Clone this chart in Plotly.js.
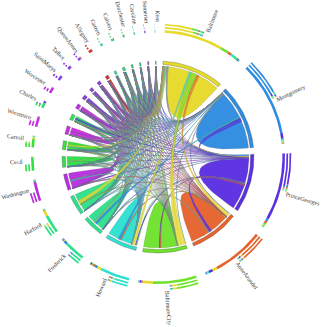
<!DOCTYPE html>
<html>
<head>
<meta charset="utf-8">
<script src="https://cdn.plot.ly/plotly-3.0.1.min.js"></script>
<style>body { margin: 0; background: #fff; }</style>
</head>
<body>
<div id="chart" style="width:321px;height:327px"></div>
<script>
const COUNTIES = ["Baltimore", "Montgomery", "PrinceGeorges", "AnneArundel", "BaltimoreCity", "Howard",
  "Frederick", "Harford", "Washington", "Cecil", "Carroll", "Wicomico", "Charles", "Worcester",
  "SaintMarys", "Talbot", "QueenAnnes", "Allegany", "Garrett", "Calvert", "Dorchester", "Caroline",
  "Somerset", "Kent"];

const COLORS = ["#e6da2a", "#2f8ce0", "#5a30e0", "#e5642e", "#70e22e", "#2ee0d0",
  "#2ee08c", "#2ee088", "#b830e0", "#30e048", "#38e038", "#c830e0", "#30e05c", "#c030e0",
  "#8c40d8", "#8c40d8", "#8c40e0", "#d8342e", "#30dca0", "#30e080", "#30c878", "#30cc98",
  "#8c44c8", "#3cb4b4"];

// width of each county's ribbons towards every other county, same order as COUNTIES
const FLOWS = [
  [270, 6, 3, 18, 38, 14, 2, 12, 1, 1, 7, .4, .4, .3, .4, .3, .5, .4, .2, .5, .2, .3, .1, .2],
  [4, 344, 26, 3, 3, 4, 9, .5, 1, .2, .6, .1, .3, .1, .1, .1, .1, .1, .1, .1, .05, .05, .05, .05],
  [5, 12, 310, 12, 5, 3, 1, .3, .3, .1, .1, .1, 6, .1, .5, .1, .1, .1, .05, .5, .05, .05, .05, .05],
  [22, 4, 18, 240, 5, 6, .4, .5, .1, .1, .2, .1, .2, .1, .2, .2, 1.5, .1, .05, 1.5, .1, .1, .05, .05],
  [48, 2, 5, 7, 200, 4, .2, 2, .1, .1, .3, .1, .1, .1, .1, .1, .1, .1, .02, .1, .05, .05, .02, .05],
  [20, 14, 6, 9, 7, 135, 1.2, .3, .1, .1, 1, .1, .1, .1, .1, .1, .1, .1, .02, .1, .02, .02, .02, .02],
  [4, 17, 2, .8, .5, 2.2, 95, .1, 3, .05, 1.5, .02, .05, .02, .03, .02, .02, .1, .02, .02, .01, .01, .01, .01],
  [24, .8, .5, 2, 5, 1, .1, 85, .02, 1.5, .2, .02, .02, .02, .02, .02, .1, .02, .01, .02, .01, .02, .01, .02],
  [1, 1, .2, .2, .2, .2, 7.5, .05, 88, .02, .2, .02, .02, .01, .01, .01, .01, .8, .05, .01, .01, .01, .01, .01],
  [1.5, .1, .1, .1, .2, .1, .02, 3, .02, 60, .02, .02, .02, .02, .01, .01, .05, .01, .01, .01, .02, .05, .01, .2],
  [9, 1, .2, .4, 1, 2, 2, .1, .2, .02, 38, .01, .01, .01, .01, .01, .01, .01, .01, .01, .01, .01, .01, .01],
  [.2, .1, .1, .1, .1, .05, .02, .02, .02, .02, .01, 45, .02, 2, .02, .05, .02, .01, .01, .02, 1, .1, 1.2, .02],
  [.2, .7, 8, .3, .1, .1, .02, .02, .02, .01, .01, .01, 24, .01, 1.5, .01, .01, .01, .01, .5, .01, .01, .01, .01],
  [.1, .05, .05, .05, .05, .02, .01, .01, .01, .01, .01, 2, .01, 27, .01, .02, .01, .01, .01, .01, .1, .05, .2, .01],
  [.2, .3, 1.5, .5, .1, .1, .02, .02, .01, .01, .01, .01, 1.2, .01, 21, .01, .01, .01, .01, .6, .01, .01, .01, .01],
  [.4, .1, .1, .5, .1, .05, .01, .02, .01, .02, .01, .1, .01, .02, .01, 16, .8, .01, .01, .02, .6, .8, .01, .1],
  [1, .2, .2, 3, .2, .1, .02, .05, .01, .1, .01, .02, .01, .01, .01, 1, 13, .01, .01, .03, .1, .5, .01, .5],
  [.2, .1, .1, .05, .05, .05, .1, .02, 1, .01, .01, .01, .01, .01, .01, .01, .01, 17, .8, .01, .01, .01, .01, .01],
  [.1, .1, .05, .02, .02, .02, .05, .01, .3, .01, .01, .01, .01, .01, .01, .01, .01, 1, 11, .01, .01, .01, .01, .01],
  [.2, .2, 2, 2.5, .1, .1, .01, .01, .01, .01, .01, .01, .4, .01, .8, .01, .05, .01, .01, 9, .01, .01, .01, .01],
  [.1, .02, .02, .05, .02, .01, .01, .01, .01, .01, .01, .5, .01, .05, .01, .8, .05, .01, .01, .01, 8, .3, .05, .01],
  [.1, .03, .03, .1, .03, .01, .01, .02, .01, .03, .01, .05, .01, .03, .01, 1, .5, .01, .01, .01, .5, 5.5, .01, .1],
  [.05, .02, .02, .02, .01, .01, .01, .01, .01, .01, .01, 1.3, .01, .3, .01, .01, .01, .01, .01, .01, .05, .01, 5, .01],
  [.1, .02, .02, .05, .02, .01, .01, .02, .01, .3, .01, .01, .01, .01, .01, .1, .3, .01, .01, .01, .01, .1, .01, 2.8]
];

const MAIN_RIBBONS = {0: [5, 4, 3], 1: [2, 6], 2: [5, 4, 3], 3: [5, 2], 4: [3, 2], 5: [3, 1]};

const START_ANGLE = 3;
const GAP = 4.1;
const RIBBON_R = 91;
const N = COUNTIES.length;

function sum(a) {
  return a.reduce((s, v) => s + v, 0);
}

function polar(r, a) {
  var rad = a * Math.PI / 180;
  return [r * Math.sin(rad), r * Math.cos(rad)];
}

function arc(r, a0, a1) {
  var pts = [];
  var steps = Math.max(2, Math.ceil(Math.abs(a1 - a0) / 1.5));
  for (var k = 0; k <= steps; k++) {
    pts.push(polar(r, a0 + (a1 - a0) * k / steps));
  }
  return pts;
}

// petal edge: quadratic curve between two rim points, pulled to the centre
function curve(a0, a1) {
  var p = polar(RIBBON_R, a0), q = polar(RIBBON_R, a1), pts = [];
  for (var k = 1; k < 24; k++) {
    var t = k / 24;
    pts.push([(1 - t) * (1 - t) * p[0] + t * t * q[0], (1 - t) * (1 - t) * p[1] + t * t * q[1]]);
  }
  return pts;
}

// ribbon edge: cubic, leaves the rim radially
function ribbonEdge(a0, a1) {
  var p = polar(RIBBON_R, a0), q = polar(RIBBON_R, a1);
  var c0 = polar(RIBBON_R * 0.3, a0), c1 = polar(RIBBON_R * 0.3, a1), pts = [];
  for (var k = 1; k < 24; k++) {
    var t = k / 24, u = 1 - t;
    pts.push([0, 1].map(d => u * u * u * p[d] + 3 * u * u * t * c0[d] + 3 * u * t * t * c1[d] + t * t * t * q[d]));
  }
  return pts;
}

var groups = {};
function addPoly(layer, c, pts) {
  var key = layer + "|" + c;
  if (!groups[key]) groups[key] = {x: [], y: [], layer: layer, c: c};
  pts.forEach(p => { groups[key].x.push(p[0]); groups[key].y.push(p[1]); });
  groups[key].x.push(pts[0][0], null);
  groups[key].y.push(pts[0][1], null);
}

function band(layer, c, r0, r1, a0, a1) {
  addPoly(layer, c, arc(r1, a0, a1).concat(arc(r0, a1, a0)));
}

// sector angles
var totals = FLOWS.map(sum);
var scale = (360 - N * GAP) / sum(totals);
var starts = [], widths = [];
var pos = START_ANGLE;
for (var i = 0; i < N; i++) {
  starts.push(pos);
  widths.push(totals[i] * scale);
  pos += widths[i] + GAP;
}

// slots on the rim: small ribbons, first half of the petal, main ribbons, second half
var slots = [];
for (var i = 0; i < N; i++) {
  var others = [];
  for (var j = 0; j < N; j++) if (j != i) others.push(j);
  others.sort((a, b) => FLOWS[i][b] - FLOWS[i][a]);
  var order = j => (j - i + N) % N;
  var mid = (MAIN_RIBBONS[i] || others.slice(0, 3)).slice().sort((a, b) => order(b) - order(a));
  var side = others.filter(j => mid.indexOf(j) < 0).sort((a, b) => order(b) - order(a));
  var a = starts[i];
  slots.push({});
  side.forEach(j => { slots[i][j] = [a, a + FLOWS[i][j] * scale]; a += FLOWS[i][j] * scale; });
  var selfStart = a;
  a += FLOWS[i][i] * scale / 2;
  mid.forEach(j => { slots[i][j] = [a, a + FLOWS[i][j] * scale]; a += FLOWS[i][j] * scale; });
  a += FLOWS[i][i] * scale / 2;
  addPoly("petal", i, arc(RIBBON_R, selfStart, a).concat(curve(a, selfStart)));
}

// each ribbon is full width at its own county and a sliver at the other one
for (var j = N - 1; j >= 0; j--) {
  for (var i = 0; i < N; i++) {
    if (i == j) continue;
    var s = slots[i][j], t = slots[j][i];
    var m = (t[0] + t[1]) / 2, w = (s[1] - s[0]) * 0.06;
    var pts = arc(RIBBON_R, s[0], s[1]).concat(ribbonEdge(s[1], m - w), arc(RIBBON_R, m - w, m + w), ribbonEdge(m + w, s[0]));
    addPoly("strand", j, pts);
  }
}

// rim and the three outer tracks
function stack(layer, r0, r1, a0, len, values) {
  var idx = values.map((v, k) => k).sort((p, q) => values[q] - values[p]);
  var tot = sum(values), a = a0;
  idx.forEach(k => {
    var w = values[k] / tot * len;
    band(layer, k, r0, r1, a, a + w);
    a += w;
  });
}

var TRACK_SHARE = 0.47;
for (var i = 0; i < N; i++) {
  band("rim", i, 92.6, 96, starts[i], starts[i] + widths[i]);
  stack("track", 124.4, 127, starts[i], widths[i], FLOWS[i]);
  stack("track", 128.5, 130.2, starts[i], widths[i] * TRACK_SHARE, FLOWS[i]);
  stack("track", 131.6, 133.3, starts[i], widths[i] * TRACK_SHARE, FLOWS.map(row => row[i]));
}

function rgba(hex, alpha, mixWith, share) {
  var v = parseInt(hex.slice(1), 16);
  var c = [v >> 16, (v >> 8) & 255, v & 255];
  if (mixWith) c = c.map((x, k) => Math.round(x * (1 - share) + mixWith[k] * share));
  return "rgba(" + c.join(",") + "," + alpha + ")";
}

var STYLE = {
  track: {alpha: 1, width: 0, line: c => c},
  rim: {alpha: 1, width: 0.5, line: () => "rgba(70,70,70,0.6)"},
  petal: {alpha: 0.97, width: 0.3, line: () => "rgba(90,90,90,0.5)"},
  strand: {alpha: 0.8, width: 0.25, line: c => rgba(c, 0.6, [120, 95, 150], 0.55)}
};

var traces = [];
["track", "rim", "petal", "strand"].forEach(layer => {
  Object.values(groups).filter(g => g.layer == layer).forEach(g => {
    traces.push({
      x: g.x, y: g.y, type: "scatter", mode: "lines", fill: "toself",
      fillcolor: rgba(COLORS[g.c], STYLE[layer].alpha),
      line: {width: STYLE[layer].width, color: STYLE[layer].line(COLORS[g.c])},
      hoverinfo: "skip", showlegend: false
    });
  });
});

var annotations = COUNTIES.map((name, i) => {
  var a = starts[i] + widths[i] * TRACK_SHARE + 1;
  var p = polar(136 + name.length * 1.15, a);
  return {
    x: p[0], y: p[1], text: name, showarrow: false,
    textangle: a < 180 ? a - 90 : a - 270,
    xanchor: "center", yanchor: "middle",
    font: {family: "Liberation Serif", size: 6, color: "#333"}
  };
});

var layout = {
  width: 321,
  height: 327,
  margin: {l: 0, r: 0, t: 0, b: 0},
  paper_bgcolor: "#fff",
  plot_bgcolor: "#fff",
  xaxis: {range: [-158, 163], visible: false, fixedrange: true},
  yaxis: {range: [-170, 157], visible: false, fixedrange: true},
  showlegend: false,
  hovermode: false,
  annotations: annotations
};

Plotly.newPlot("chart", traces, layout, {displayModeBar: false});
</script>
</body>
</html>
